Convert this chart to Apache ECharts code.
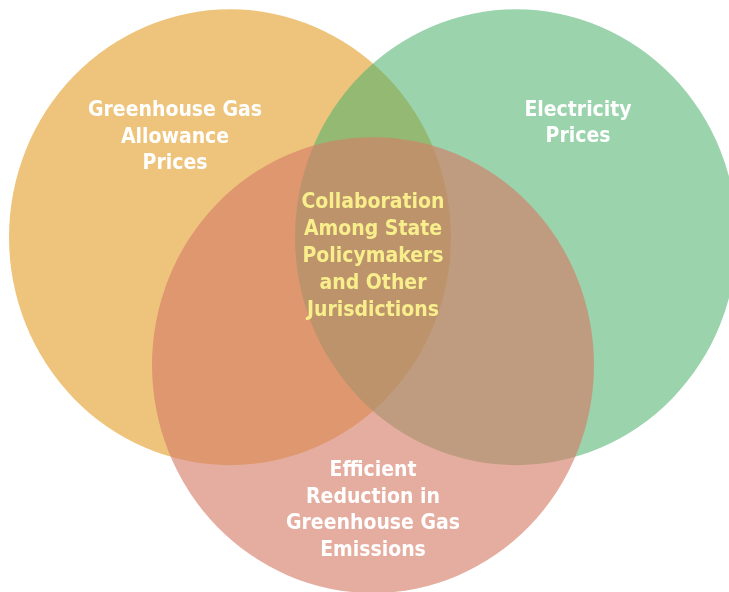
<!DOCTYPE html>
<html>
<head>
<meta charset="utf-8">
<script src="https://cdn.jsdelivr.net/npm/echarts@6/dist/echarts.min.js"></script>
<style>
html,body{margin:0;padding:0;background:#fff;}
#main{width:729px;height:592px;}
</style>
</head>
<body>
<div id="main"></div>
<script>
//三个集合：名称、圆心、半径（坐标轴单位）
var setNames = ['Greenhouse Gas\nAllowance\nPrices', 'Electricity\nPrices', 'Efficient\nReduction in\nGreenhouse Gas\nEmissions'];
var centerX = [230, 516, 373];
var centerY = [230, 230, 354];
var radius = [221, 221, 221];
//交集标签
var overlapName = 'Collaboration\nAmong State\nPolicymakers\nand Other\nJurisdictions';

//标签位置
var labelAt = [[175, 133], [578, 120], [373, 495], [373, 249]];
var fills = ['rgba(238,196,124,1)', 'rgba(76,176,109,0.56)', 'rgba(214,125,103,0.63)'];
var fontStack = "'DejaVu Sans Condensed', 'DejaVu Sans', sans-serif";

var circleData = [];
for (var i = 0; i < setNames.length; i++) {
	circleData.push([centerX[i], centerY[i], radius[i]]);
}
var labelData = [];
for (var j = 0; j < setNames.length; j++) {
	labelData.push([labelAt[j][0], labelAt[j][1], setNames[j]]);
}
labelData.push([labelAt[3][0], labelAt[3][1], overlapName]);

var chart = echarts.init(document.getElementById('main'));
chart.setOption({
	animation: false,
	grid: {left: 0, right: 0, top: 0, bottom: 0},
	xAxis: {type: 'value', min: 0, max: 729, show: false},
	yAxis: {type: 'value', min: 0, max: 574, inverse: true, show: false},
	series: [{
		type: 'custom',
		data: circleData,
		renderItem: function (params, api) {
			var c = api.coord([api.value(0), api.value(1)]);
			var s = api.size([api.value(2), api.value(2)]);
			return {
				type: 'circle',
				x: c[0], y: c[1],
				scaleY: s[1] / s[0],
				shape: {cx: 0, cy: 0, r: s[0]},
				style: {fill: fills[params.dataIndex]}
			};
		}
	}, {
		type: 'custom',
		data: labelData,
		z: 5,
		renderItem: function (params, api) {
			var c = api.coord([api.value(0), api.value(1)]);
			var isCenter = params.dataIndex == 3;
			return {
				type: 'text',
				x: c[0], y: c[1],
				style: {
					text: labelData[params.dataIndex][2],
					fill: isCenter ? '#f8ef8c' : '#ffffff',
					font: 'bold 21px ' + fontStack,
					lineHeight: isCenter ? 27 : 26.5,
					align: 'center',
					verticalAlign: 'middle'
				}
			};
		}
	}]
});
</script>
</body>
</html>
